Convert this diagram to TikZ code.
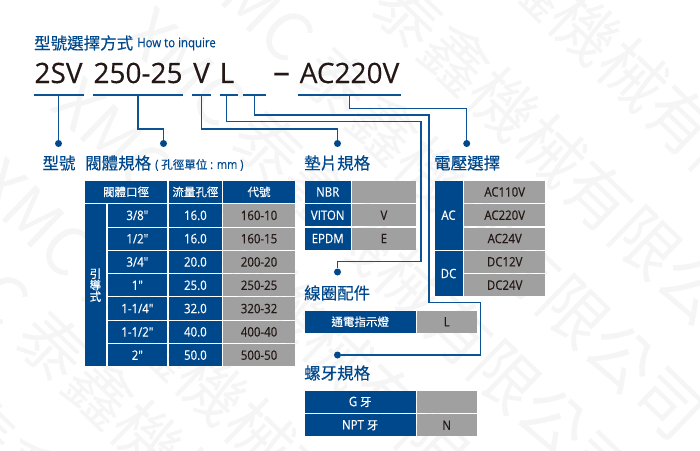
\documentclass[tikz,border=0pt]{standalone}
\usepackage{fontspec}
\setmainfont{Open Sans}[FakeBold=0.25]
\newfontfamily\latin{Open Sans}[FakeStretch=0.88, FakeBold=0.35]
\newfontfamily\cjk{Noto Sans CJK TC}[FakeBold=0.35]
\newfontfamily\cjkmark{Noto Sans CJK TC}
\definecolor{myblue}{RGB}{0,72,140}
\definecolor{mywire}{RGB}{11,83,148}
\definecolor{mygray}{RGB}{160,160,160}
\definecolor{myink}{RGB}{35,24,21}
\definecolor{mywater}{RGB}{245,245,245}
\tikzset{
    cellbase/.style={rectangle, anchor=north west, inner sep=0pt, font=\fontsize{13}{14}\selectfont\latin},
    bluecell/.style={cellbase, fill=myblue, text=white},
    graycell/.style={cellbase, fill=mygray, text=myink},
    codetext/.style={inner sep=0pt, text=myink, font=\fontsize{28}{30}\selectfont},
    headtext/.style={inner sep=0pt, text=myblue, font=\fontsize{16.5}{18}\selectfont\cjk},
    bar/.style={rectangle, fill=mywire, inner sep=0pt, minimum height=2pt},
    wire/.style={draw=mywire, line width=1.3pt},
    dot/.style={circle, fill=myblue, inner sep=0pt, minimum size=7pt}
}
\begin{document}
\begin{tikzpicture}[x=1pt,y=-1pt]
    \useasboundingbox (0,0) rectangle (700,450);
    % watermark
    \foreach \n/\x/\y in {a/360.5/-189, b/278.5/-113, c/206.6/-44, d/138/20.5, e/66/90, f/-12.5/171, g/-77.5/220, h/-150/300}
        \node[rotate=-44, anchor=west, inner sep=0pt, text=mywater, font=\fontsize{66}{68}\selectfont\cjkmark] (wm\n) at (\x,\y) {XMC 泰鑫機械有限公司};
    % title and code
    \node[anchor=west, inner sep=0pt, text=myblue, font=\fontsize{16.5}{18}\selectfont\cjk] (title) at (34,43) {型號選擇方式};
    \node[anchor=west, inner sep=0pt, text=myblue, font=\fontsize{13}{14}\selectfont\latin] (inquire) at (137,44) {How to inquire};
    \node[codetext] (codeA) at (58.5,73) {2SV};
    \node[codetext] (codeB) at (138,73) {250-25};
    \node[codetext] (codeC) at (201.5,73) {V};
    \node[codetext] (codeD) at (227,73) {L};
    \node[codetext, font=\fontsize{34}{36}\selectfont] (codeE) at (281.5,78) {–};
    \node[codetext] (codeF) at (349.5,73) {AC220V};
    % underlines
    \node[bar, minimum width=50pt] (barA) at (58.5,94.5) {};
    \node[bar, minimum width=90.5pt] (barB) at (138,94.5) {};
    \node[bar, minimum width=18.5pt] (barC) at (201.5,94.5) {};
    \node[bar, minimum width=18.5pt] (barD) at (229,94.5) {};
    \node[bar, minimum width=23.5pt] (barE) at (254.3,94.5) {};
    \node[bar, minimum width=102.5pt] (barF) at (349.5,94.5) {};
    \coordinate (tapD) at (226.7,94.5);
    % dots
    \node[dot] (dotA) at (58.5,143.5) {};
    \node[dot] (dotB) at (163.5,143.5) {};
    \node[dot] (dotC) at (337.5,143.5) {};
    \node[dot] (dotF) at (466.7,143.5) {};
    \node[dot] (dotD) at (337.5,272) {};
    \node[dot] (dotE) at (337.5,355) {};
    % connectors
    \draw[wire] (barA) -- (dotA);
    \draw[wire] (barB) -- ++(0,34.5) -| (dotB);
    \draw[wire] (barC) -- ++(0,34.5) -| (dotC);
    \draw[wire] (tapD) -- ++(0,27.2) -| ++(194.3,140) -| (dotD);
    \draw[wire] (barE) -- ++(0,20.5) -| ++(174.7,187.3) -| ++(51.7,52.7) -- (dotE);
    \draw[wire] (barF) -- ++(0,13.8) -| (dotF);
    % headings
    \node[headtext] (headA) at (59,163) {型號};
    \node[headtext, anchor=west] (headB) at (85,163) {閥體規格};
    \node[anchor=west, inner sep=0pt, text=myblue, font=\fontsize{12.5}{13}\selectfont\latin] (headBunit) at (155,165) {( {\fontsize{11.5}{12}\selectfont\cjk 孔徑單位} : mm )};
    \node[headtext, anchor=west] (headC) at (304,163) {墊片規格};
    \node[headtext, anchor=west] (headF) at (434,163) {電壓選擇};
    \node[headtext, anchor=west] (headD) at (304,293) {線圈配件};
    \node[headtext, anchor=west] (headE) at (304,373) {螺牙規格};
    % body size table
    \node[bluecell, minimum width=82.3pt, minimum height=22pt, font=\fontsize{11.5}{12}\selectfont\cjk] (sizeA) at (84.7,180.7) {閥體口徑};
    \node[bluecell, minimum width=53pt, minimum height=22pt, font=\fontsize{11.5}{12}\selectfont\cjk] (sizeB) at (168.7,180.7) {流量孔徑};
    \node[bluecell, minimum width=72.3pt, minimum height=22pt, font=\fontsize{11.5}{12}\selectfont\cjk] (sizeC) at (222.7,180.7) {代號};
    \node[bluecell, minimum width=21pt, minimum height=162pt, align=center, font=\fontsize{11.5}{11.5}\selectfont\cjk] (sizeSide) at (84.7,204) {引\\導\\式};
    \foreach \i/\port/\bore/\code in {0/3\slash 8"/16.0/160-10, 1/1\slash 2"/16.0/160-15, 2/3\slash 4"/20.0/200-20, 3/1"/25.0/250-25, 4/1-1\slash 4"/32.0/320-32, 5/1-1\slash 2"/40.0/400-40, 6/2"/50.0/500-50} {
        \node[bluecell, minimum width=59.7pt, minimum height=22.3pt] (port\i) at (107.3,204+23.3*\i) {\port};
        \node[bluecell, minimum width=53pt, minimum height=22.3pt] (bore\i) at (168.7,204+23.3*\i) {\bore};
        \node[graycell, minimum width=72.3pt, minimum height=22.3pt] (code\i) at (222.7,204+23.3*\i) {\code};
    }
    % gasket table
    \foreach \i/\name/\val in {0/NBR/, 1/VITON/V, 2/EPDM/E} {
        \node[bluecell, minimum width=45.6pt, minimum height=22pt] (seal\i) at (304.7,180.7+23.3*\i) {\name};
        \node[graycell, minimum width=64pt, minimum height=22pt] (sealv\i) at (351.7,180.7+23.3*\i) {\val};
    }
    % voltage table
    \node[bluecell, minimum width=28pt, minimum height=68.6pt] (volA) at (434.3,180.7) {AC};
    \node[bluecell, minimum width=28pt, minimum height=45.3pt] (volD) at (434.3,250.7) {DC};
    \foreach \i/\val in {0/AC110V, 1/AC220V, 2/AC24V, 3/DC12V, 4/DC24V}
        \node[graycell, minimum width=81pt, minimum height=22pt] (volv\i) at (464,180.7+23.3*\i) {\val};
    % coil table
    \node[bluecell, minimum width=110.6pt, minimum height=21.7pt, font=\fontsize{11.5}{12}\selectfont\cjk] (coilA) at (304.7,310.7) {通電指示燈};
    \node[graycell, minimum width=59.6pt, minimum height=21.7pt] (coilB) at (416.7,310.7) {L};
    % thread table
    \node[bluecell, minimum width=110.6pt, minimum height=22pt] (threadA) at (304.7,390.7) {G {\fontsize{11.5}{12}\selectfont\cjk 牙}};
    \node[graycell, minimum width=59.6pt, minimum height=22pt] (threadAv) at (416.7,390.7) {};
    \node[bluecell, minimum width=110.6pt, minimum height=22pt] (threadB) at (304.7,414) {NPT {\fontsize{11.5}{12}\selectfont\cjk 牙}};
    \node[graycell, minimum width=59.6pt, minimum height=22pt] (threadBv) at (416.7,414) {N};
\end{tikzpicture}
\end{document}
